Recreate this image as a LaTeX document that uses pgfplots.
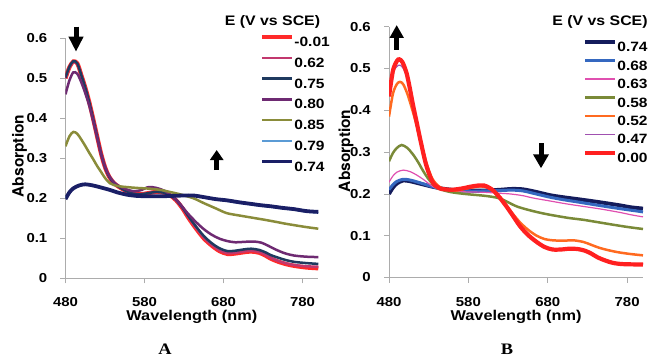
\documentclass[border=0pt]{standalone}
\usepackage{pgfplots}
\pgfplotsset{compat=1.18}
\usepackage{fontspec}
\setmainfont[FakeStretch=1.15]{Liberation Sans}
\newfontfamily\ylabfont{TeX Gyre Heros}
\newfontfamily\serifb[FakeStretch=1.15]{Liberation Serif}
\usetikzlibrary{arrows.meta}

\definecolor{cRedA}{HTML}{FF2A2A}
\definecolor{cMagA}{HTML}{C2386E}
\definecolor{cTealA}{HTML}{1F3A5F}
\definecolor{cPurA}{HTML}{6E2A72}
\definecolor{cOliA}{HTML}{8A8C3A}
\definecolor{cLbA}{HTML}{5B9BD5}
\definecolor{cNavA}{HTML}{1A1F66}
\definecolor{cNavB}{HTML}{141C5C}
\definecolor{cBluB}{HTML}{3568C0}
\definecolor{cPinB}{HTML}{E050B0}
\definecolor{cOliB}{HTML}{7A8A38}
\definecolor{cOraB}{HTML}{FF6A20}
\definecolor{cPurB}{HTML}{A050B0}
\definecolor{cRedB}{HTML}{FF2020}

\pgfplotsset{
  specstyle/.style={
    scale only axis,
    xmin=480, xmax=800, ymin=0, ymax=0.6,
    axis lines*=left,
    axis line style={draw=gray!65, line width=0.8pt},
    every tick/.style={draw=gray!65, line width=0.8pt},
    major tick length=5pt,
    tick align=outside,
    xtick={480,580,680,780}, xticklabels={480,580,680,780},
    ytick={0,0.1,0.2,0.3,0.4,0.5,0.6},
    yticklabels={0,0.1,0.2,0.3,0.4,0.5,0.6},
    /pgf/number format/assume math mode=true,
    ticklabel style={font=\fontsize{13}{13}\selectfont\bfseries, inner sep=0pt},
    xticklabel style={anchor=center, yshift=-19pt},
    yticklabel style={anchor=east, xshift=-13pt},
    xlabel={\fontsize{14.2}{14.2}\selectfont\bfseries Wavelength (nm)},
    ylabel={\ylabfont\fontsize{15.5}{15.5}\selectfont\bfseries Absorption},
    legend cell align=left,
    legend image code/.code={\path[draw=none,fill=none] (0pt,0pt) rectangle (30pt,9.5pt); \draw[#1,smooth] (0pt,4.75pt) -- (30pt,4.75pt);},
    every axis plot/.append style={smooth, tension=0.5},
  }
}

\begin{document}
\begin{tikzpicture}[x=1pt,y=1pt]
\useasboundingbox (0pt,0pt) rectangle (651pt,357pt);

% ---------------- Panel A ----------------
\begin{axis}[specstyle,
  at={(65.5pt,78.7pt)}, anchor=south west,
  width=252.8pt, height=240pt,
  x label style={at={(axis description cs:0.5,-0.1625)}, anchor=center},
  y label style={at={(axis description cs:-0.182,0.51)}, anchor=center},
  legend style={at={(0.7694,1.026)}, anchor=north west, draw=none, fill=none,
    font=\fontsize{13.5}{13.5}\selectfont\bfseries, row sep=6.5pt, column sep=0pt,
    inner sep=0pt, nodes={inner sep=0pt, text height=9.5pt, text depth=0pt}},
]
\addplot[cRedA, line width=4.2pt] coordinates {
(480,0.500)(485,0.528)(490,0.542)(495,0.537)(500,0.508)(505,0.477)(510,0.441)(515,0.399)(520,0.355)(525,0.312)(530,0.278)(535,0.255)(540,0.241)(545,0.232)(555,0.220)(565,0.212)(575,0.210)(585,0.213)(595,0.216)(605,0.214)(612,0.208)(620,0.195)(628,0.175)(636,0.150)(645,0.125)(655,0.100)(665,0.082)(675,0.068)(685,0.061)(695,0.062)(705,0.065)(715,0.067)(725,0.064)(733,0.057)(740,0.049)(750,0.041)(760,0.035)(770,0.031)(785,0.027)(800,0.025)};
\addlegendentry{-0.01}
\addplot[cMagA, line width=2.5pt] coordinates {
(480,0.500)(485,0.527)(490,0.541)(495,0.536)(500,0.508)(505,0.477)(510,0.441)(515,0.399)(520,0.355)(525,0.312)(530,0.278)(535,0.255)(540,0.241)(545,0.232)(555,0.220)(565,0.212)(575,0.210)(585,0.213)(595,0.216)(605,0.214)(612,0.208)(620,0.195)(628,0.176)(636,0.152)(645,0.127)(655,0.102)(665,0.084)(675,0.070)(685,0.063)(695,0.064)(705,0.067)(715,0.069)(725,0.066)(733,0.059)(740,0.051)(750,0.043)(760,0.037)(770,0.033)(785,0.030)(800,0.029)};
\addlegendentry{0.62}
\addplot[cTealA, line width=2.5pt] coordinates {
(480,0.502)(485,0.529)(490,0.543)(495,0.537)(500,0.508)(505,0.477)(510,0.441)(515,0.399)(520,0.355)(525,0.312)(530,0.278)(535,0.255)(540,0.241)(545,0.232)(555,0.220)(565,0.212)(575,0.210)(585,0.213)(595,0.216)(605,0.214)(612,0.208)(620,0.196)(628,0.177)(636,0.154)(645,0.130)(655,0.106)(665,0.088)(675,0.075)(685,0.068)(695,0.069)(705,0.072)(715,0.074)(725,0.071)(733,0.065)(740,0.058)(750,0.051)(760,0.045)(770,0.041)(785,0.038)(800,0.036)};
\addlegendentry{0.75}
\addplot[cPurA, line width=2.5pt] coordinates {
(480,0.460)(485,0.495)(490,0.515)(495,0.511)(500,0.490)(505,0.463)(510,0.432)(515,0.394)(520,0.352)(525,0.311)(530,0.279)(535,0.257)(540,0.243)(545,0.234)(555,0.224)(565,0.218)(575,0.220)(585,0.228)(595,0.226)(605,0.219)(615,0.206)(625,0.186)(634,0.164)(645,0.141)(655,0.123)(665,0.109)(675,0.099)(685,0.093)(695,0.090)(705,0.091)(718,0.092)(728,0.089)(737,0.081)(746,0.072)(757,0.063)(769,0.057)(785,0.054)(800,0.053)};
\addlegendentry{0.80}
\addplot[cOliA, line width=2.5pt] coordinates {
(480,0.330)(485,0.355)(490,0.366)(495,0.361)(500,0.347)(505,0.331)(510,0.314)(515,0.298)(520,0.281)(525,0.266)(530,0.251)(536,0.238)(545,0.231)(558,0.228)(570,0.226)(587,0.224)(600,0.221)(612,0.216)(625,0.210)(642,0.200)(655,0.188)(670,0.175)(684,0.163)(700,0.157)(715,0.152)(730,0.147)(744,0.142)(757,0.137)(769,0.133)(785,0.128)(800,0.124)};
\addlegendentry{0.85}
\addplot[cLbA, line width=1.6pt] coordinates {
(480,0.200)(485,0.216)(490,0.226)(497,0.232)(505,0.234)(515,0.231)(525,0.226)(536,0.220)(547,0.213)(558,0.208)(570,0.205)(585,0.204)(600,0.204)(615,0.205)(630,0.206)(642,0.206)(655,0.202)(670,0.197)(684,0.193)(700,0.188)(715,0.184)(726,0.181)(740,0.178)(755,0.174)(769,0.171)(785,0.166)(800,0.164)};
\addlegendentry{0.79}
\addplot[cNavA, line width=3.8pt] coordinates {
(480,0.198)(485,0.215)(490,0.225)(497,0.232)(505,0.235)(515,0.232)(525,0.227)(536,0.221)(547,0.214)(558,0.209)(570,0.206)(585,0.205)(600,0.205)(615,0.206)(630,0.207)(642,0.207)(655,0.203)(670,0.198)(684,0.195)(700,0.190)(715,0.186)(726,0.183)(740,0.180)(755,0.176)(769,0.173)(785,0.168)(800,0.166)};
\addlegendentry{0.74}
\end{axis}

% ---------------- Panel B ----------------
\begin{axis}[specstyle,
  at={(389pt,79.5pt)}, anchor=south west,
  width=254pt, height=250.8pt,
  x label style={at={(axis description cs:0.5,-0.1575)}, anchor=center},
  y label style={at={(axis description cs:-0.169,0.505)}, anchor=center},
  xticklabel style={yshift=-0.5pt},
  legend style={at={(0.7638,0.958)}, anchor=north west, draw=none, fill=none,
    font=\fontsize{13.5}{13.5}\selectfont\bfseries, row sep=4.2pt, column sep=0pt,
    inner sep=0pt, nodes={inner sep=0pt, text height=9.5pt, text depth=0pt}},
]
\addplot[cNavB, line width=3.8pt] coordinates {
(480,0.200)(485,0.215)(490,0.225)(498,0.232)(507,0.230)(520,0.224)(535,0.217)(550,0.212)(565,0.209)(580,0.208)(600,0.208)(620,0.210)(635,0.212)(649,0.211)(665,0.205)(683,0.197)(700,0.192)(720,0.187)(746,0.180)(770,0.173)(785,0.168)(800,0.165)};
\addlegendentry{0.74}
\addplot[cBluB, line width=3pt] coordinates {
(480,0.210)(485,0.222)(490,0.230)(498,0.235)(507,0.233)(520,0.226)(535,0.217)(550,0.211)(565,0.208)(580,0.207)(600,0.207)(620,0.208)(635,0.209)(649,0.207)(665,0.200)(683,0.192)(700,0.186)(720,0.180)(746,0.172)(770,0.165)(800,0.157)};
\addlegendentry{0.68}
\addplot[cPinB, line width=1.2pt] coordinates {
(480,0.228)(485,0.243)(490,0.252)(498,0.257)(507,0.253)(515,0.245)(523,0.235)(532,0.222)(540,0.213)(556,0.208)(575,0.205)(598,0.204)(615,0.202)(632,0.200)(648,0.196)(662,0.190)(683,0.183)(704,0.176)(725,0.170)(746,0.164)(770,0.156)(785,0.150)(800,0.145)};
\addlegendentry{0.63}
\addplot[cOliB, line width=2.5pt] coordinates {
(480,0.278)(485,0.298)(490,0.310)(496,0.317)(503,0.310)(510,0.295)(517,0.275)(523,0.255)(530,0.235)(540,0.215)(556,0.205)(575,0.200)(598,0.196)(610,0.193)(620,0.189)(630,0.180)(641,0.170)(655,0.162)(670,0.155)(683,0.150)(695,0.146)(708,0.142)(725,0.138)(741,0.133)(760,0.127)(780,0.121)(800,0.116)};
\addlegendentry{0.58}
\addplot[cOraB, line width=2.5pt] coordinates {
(480,0.385)(485,0.440)(490,0.463)(494,0.468)(498,0.462)(503,0.440)(508,0.410)(514,0.370)(520,0.325)(527,0.275)(535,0.235)(545,0.215)(555,0.210)(565,0.208)(580,0.214)(595,0.218)(605,0.215)(612,0.207)(620,0.192)(628,0.172)(637,0.150)(646,0.130)(656,0.113)(666,0.100)(676,0.092)(686,0.089)(700,0.088)(712,0.089)(725,0.085)(735,0.078)(745,0.071)(757,0.065)(770,0.060)(785,0.056)(800,0.053)};
\addlegendentry{0.52}
\addplot[cPurB, line width=1.2pt] coordinates {
(480,0.450)(485,0.490)(490,0.505)(494,0.508)(498,0.500)(502,0.480)(506,0.448)(510,0.410)(515,0.366)(520,0.322)(527,0.266)(535,0.228)(543,0.214)(550,0.211)(560,0.210)(572,0.213)(582,0.217)(592,0.219)(600,0.219)(606,0.214)(612,0.206)(620,0.190)(628,0.170)(636,0.149)(645,0.125)(655,0.104)(666,0.087)(676,0.075)(686,0.069)(697,0.069)(708,0.071)(718,0.070)(727,0.066)(735,0.059)(743,0.050)(752,0.043)(762,0.037)(775,0.034)(800,0.033)};
\addlegendentry{0.47}
\addplot[cRedB, line width=4.2pt] coordinates {
(480,0.433)(485,0.495)(490,0.518)(493,0.522)(497,0.515)(502,0.490)(506,0.455)(510,0.415)(515,0.370)(520,0.325)(527,0.268)(535,0.228)(543,0.214)(550,0.211)(560,0.210)(572,0.213)(582,0.217)(592,0.220)(600,0.220)(606,0.215)(612,0.207)(620,0.190)(628,0.170)(636,0.148)(645,0.123)(655,0.102)(666,0.085)(676,0.073)(686,0.067)(697,0.067)(708,0.069)(718,0.068)(727,0.064)(735,0.057)(743,0.048)(752,0.041)(762,0.035)(775,0.032)(800,0.031)};
\addlegendentry{0.00}
\end{axis}

% legend titles
\node[font=\fontsize{13.8}{13.8}\selectfont\bfseries, anchor=center] at (272.5pt,335pt) {E (V vs SCE)};
\node[font=\fontsize{13.8}{13.8}\selectfont\bfseries, anchor=center] at (600pt,335pt) {E (V vs SCE)};

% arrows
\draw[line width=5pt, -{Triangle[length=15pt,width=14pt]}] (76pt,330.3pt) -- (76pt,305.3pt);
\draw[line width=5pt, -{Triangle[length=10pt,width=13pt]}] (216.7pt,187pt) -- (216.7pt,207pt);
\draw[line width=5pt, -{Triangle[length=13pt,width=13.5pt]}] (396.7pt,307pt) -- (396.7pt,332pt);
\draw[line width=5pt, -{Triangle[length=14pt,width=15pt]}] (541pt,213.7pt) -- (541pt,188.7pt);

% panel labels
\node[font=\serifb\fontsize{16}{16}\selectfont\bfseries, anchor=base, inner sep=0pt] at (165pt,2.5pt) {A};
\node[font=\serifb\fontsize{16}{16}\selectfont\bfseries, anchor=base, inner sep=0pt] at (507pt,2.5pt) {B};
\end{tikzpicture}
\end{document}
